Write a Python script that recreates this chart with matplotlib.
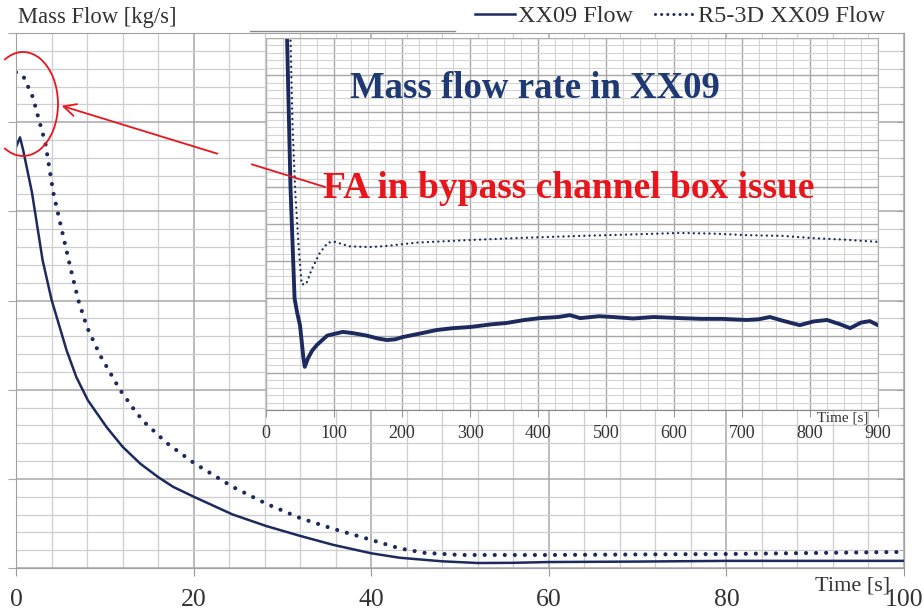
import numpy as np
import matplotlib
matplotlib.use('Agg')
from matplotlib import pyplot as plt
from matplotlib.lines import Line2D
from matplotlib.patches import Arc
from matplotlib.ticker import MultipleLocator, NullFormatter

W, H = 924, 611

# main chart, first 100 s
t_xx09 = [0, 0.45, 0.8, 1.8, 3, 4, 5.7, 6.8, 8.1, 10.2, 12, 14, 16, 17.7, 20, 22.2, 24.4, 28.2, 32, 35.7, 40, 43.2, 48, 52, 56, 60, 70, 80, 90, 100]
m_xx09 = [4.72, 4.83, 4.69, 4.21, 3.45, 3.01, 2.44, 2.14, 1.88, 1.58, 1.36, 1.17, 1.02, 0.91, 0.80, 0.70, 0.60, 0.47, 0.36, 0.26, 0.165, 0.115, 0.075, 0.056, 0.058, 0.067, 0.072, 0.08, 0.08, 0.08]
t_r5 = [0, 0.8, 1.9, 2.6, 3.3, 4.2, 4.7, 6.1, 7, 8, 9.5, 11.7, 13.2, 14.3, 17, 20, 22.6, 24.4, 28.2, 32, 35.7, 39.5, 43.2, 46, 50, 60, 80, 100]
m_r5 = [5.56, 5.52, 5.28, 5.02, 4.77, 4.21, 3.99, 3.38, 3.01, 2.70, 2.38, 2.0, 1.79, 1.65, 1.40, 1.18, 1.02, 0.91, 0.72, 0.56, 0.44, 0.33, 0.22, 0.17, 0.146, 0.146, 0.157, 0.18]

# inset, 0-900 s
ti_xx09 = [28, 31, 36, 42, 46, 50, 55, 57, 62, 68, 75, 90, 113, 130, 148, 165, 178, 190, 201, 225, 251, 275, 300, 330, 354,
           380, 403, 430, 447, 462, 490, 510, 540, 570, 609, 640, 670, 707, 725, 741, 760, 785, 805, 825, 845, 859, 875, 888, 900]
mi_xx09 = [14, 10, 6, 3.0, 2.6, 2.28, 1.4, 1.16, 1.4, 1.6, 1.75, 2.0, 2.1, 2.06, 2.0, 1.92, 1.88, 1.9, 1.96, 2.05, 2.15, 2.2, 2.23, 2.3, 2.34,
           2.42, 2.47, 2.5, 2.55, 2.47, 2.52, 2.5, 2.46, 2.5, 2.47, 2.45, 2.45, 2.42, 2.44, 2.5, 2.4, 2.28, 2.38, 2.42, 2.3, 2.2, 2.35, 2.39, 2.28]
ti_r5 = [33, 36, 39, 43, 47.6, 51, 52.5, 59, 67, 79, 91, 101, 123, 150, 172, 222, 300, 380, 462, 540, 609, 660, 707, 760, 805, 850, 900]
mi_r5 = [12, 10, 7.66, 5.87, 4.5, 3.69, 3.38, 3.38, 3.77, 4.22, 4.5, 4.52, 4.4, 4.38, 4.4, 4.5, 4.57, 4.63, 4.68, 4.72, 4.76, 4.74, 4.7, 4.68, 4.62, 4.58, 4.52]

navy = '#1c2a5e'
red = '#e8161c'
plt.rcParams['font.family'] = ['Liberation Serif', 'DejaVu Serif']


def fx(x):
    return x / W


def fy(y):
    return 1 - y / H


fig = plt.figure(figsize=(W / 100, H / 100), dpi=100)

# ---- main axes ----
ax = fig.add_axes([fx(16), fy(568), (904 - 16) / W, (568 - 33) / H])
ax.plot(t_xx09, m_xx09, color=navy, lw=1.8)
ax.plot(t_r5, m_r5, color=navy, lw=3.0, linestyle=(0, (0.01, 2.4)), dash_capstyle='round')
ax.set_xlim(0, 100)
ax.set_ylim(0, 6)
ax.xaxis.set_major_locator(MultipleLocator(20))
ax.xaxis.set_minor_locator(MultipleLocator(4))
ax.yaxis.set_major_locator(MultipleLocator(1))
ax.yaxis.set_minor_locator(MultipleLocator(0.2))
ax.yaxis.set_major_formatter(NullFormatter())
ax.grid(which='major', color='#a8a8a8', lw=1.1)
ax.grid(which='minor', color='#cfcfcf', lw=0.9)
ax.tick_params(axis='x', which='major', length=6, color='#999999', labelsize=18.5, labelcolor='#333333', pad=9)
ax.tick_params(axis='x', which='minor', length=0)
ax.tick_params(axis='y', which='major', length=6, color='#a8a8a8')
ax.tick_params(axis='y', which='minor', length=0)
for s in ax.spines.values():
    s.set_color('#a0a0a0')
ax.set_axisbelow(True)

ax2 = ax.twinx()
ax2.set_ylim(0, 6)
ax2.yaxis.set_major_locator(MultipleLocator(1))
ax2.yaxis.set_minor_locator(MultipleLocator(0.2))
ax2.yaxis.set_major_formatter(NullFormatter())
ax2.tick_params(axis='y', which='both', direction='in', color='#a0a0a0')
ax2.tick_params(axis='y', which='major', length=5)
ax2.tick_params(axis='y', which='minor', length=3)
for s in ax2.spines.values():
    s.set_visible(False)
ax2.spines['right'].set_visible(True)
ax2.spines['right'].set_color('#a0a0a0')

fig.text(fx(890), fy(577), 'Time [s]', ha='right', va='top', fontsize=16, color='#333333')

# white box behind inset
bg = fig.add_axes([fx(221), fy(460), (898 - 221) / W, 460 / H], zorder=1)
bg.set_facecolor('white')
bg.axis('off')
bg.patch.set_visible(True)
fig.add_artist(Line2D([fx(250), fx(455)], [fy(31), fy(31)], color='#8a8a8a', lw=1.0, zorder=2))

# ---- inset ----
ins = fig.add_axes([fx(266), fy(410), (878 - 266) / W, (410 - 38) / H], zorder=3)
ins.plot(ti_xx09, mi_xx09, color=navy, lw=2.8)
ins.plot(ti_r5, mi_r5, color=navy, lw=1.7, linestyle=(0, (0.01, 2.2)), dash_capstyle='round')
ins.set_xlim(0, 900)
ins.set_ylim(0, 10)
ins.xaxis.set_major_locator(MultipleLocator(100))
ins.xaxis.set_minor_locator(MultipleLocator(25))
ins.yaxis.set_major_locator(MultipleLocator(1))
ins.yaxis.set_minor_locator(MultipleLocator(0.2))
ins.yaxis.set_major_formatter(NullFormatter())
ins.grid(which='major', color='#a8a8a8', lw=1.0)
ins.grid(which='minor', color='#d4d4d4', lw=0.8)
ins.tick_params(axis='x', which='major', length=5, color='#999999', labelsize=13, labelcolor='#333333', pad=6)
ins.tick_params(axis='x', which='minor', length=0)
ins.tick_params(axis='y', which='both', length=0)
for s in ins.spines.values():
    s.set_color('#b0b0b0')
ins.spines['bottom'].set_color('#888888')
ins.set_axisbelow(True)
ins.text(0.984, -0.005, 'Time [s]', transform=ins.transAxes, ha='right', va='top', fontsize=11, color='#333333')

# ---- texts ----
fig.text(fx(18), fy(17), 'Mass Flow [kg/s]', ha='left', va='center', fontsize=16.3, color='#333333')
fig.text(fx(350), fy(88), 'Mass flow rate in XX09', ha='left', va='center', fontsize=26.5,
         fontweight='bold', color='#1f3a73', zorder=5)
fig.text(fx(323), fy(188), 'FA in bypass channel box issue', ha='left', va='center', fontsize=27,
         fontweight='bold', color=red, zorder=5)

# legend
h1 = Line2D([], [], color=navy, lw=1.8)
h2 = Line2D([], [], color=navy, lw=2.2, linestyle=(0, (0.01, 2.0)), dash_capstyle='round')
fig.legend([h1, h2], ['XX09 Flow', 'R5-3D XX09 Flow'], loc='upper right', bbox_to_anchor=(fx(885), fy(5)),
           ncol=2, frameon=False, fontsize=17.5, handlelength=1.65, handletextpad=0.12, columnspacing=0.9,
           borderpad=0, borderaxespad=0, labelcolor='#333333')

# red ellipse + arrow (pixel-based, in inches)
inch = fig.dpi_scale_trans
fig.add_artist(Arc((23 / 100, (H - 104) / 100), 70 / 100, 104 / 100, theta1=-113, theta2=113,
                   color=red, lw=1.3, zorder=6, transform=inch))
fig.add_artist(Line2D([fx(252), fx(325)], [fy(164.4), fy(187)], color=red, lw=1.3, zorder=6))
ax.annotate('', xy=(fx(59), fy(105)), xycoords='figure fraction',
            xytext=(fx(220), fy(154.5)), textcoords='figure fraction',
            arrowprops=dict(arrowstyle='->', color=red, lw=1.3, mutation_scale=22), zorder=6,
            annotation_clip=False)

fig.savefig('out.png', dpi=100)
